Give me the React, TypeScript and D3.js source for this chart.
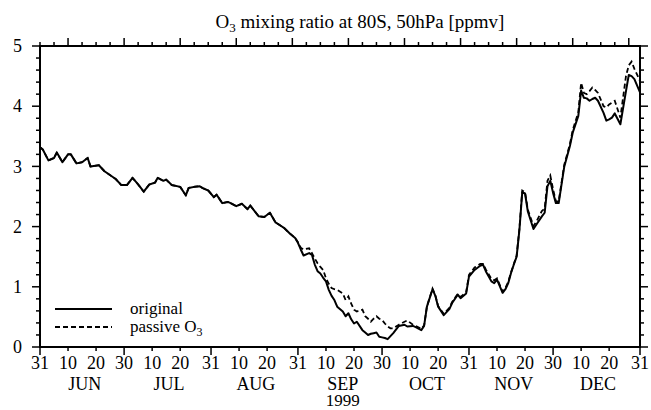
import React, { useEffect, useRef } from 'react';
import * as d3 from 'd3';

// days after 31 May 1999
const dayOffsets = [
  0, 1, 3, 5, 6, 8, 10, 11, 13, 15, 17, 18, 21, 23, 27, 29, 31, 33, 35, 37,
  39, 41, 42, 44, 45, 47, 50, 52, 53, 55, 57, 58, 60, 62, 63, 65, 67, 68, 70, 72,
  74, 75, 78, 80, 82, 84, 86, 87, 89, 91, 92, 93, 94, 96, 97, 98, 99, 100, 101, 102,
  103, 104, 105, 106, 108, 109, 110, 111, 112, 113, 115, 116, 117, 118, 119, 120, 121, 122, 123, 124,
  125, 126, 128, 130, 131, 133, 134, 136, 137, 138, 140, 141, 142, 144, 146, 147, 149, 150, 152, 153,
  155, 157, 158, 159, 161, 162, 163, 165, 166, 167, 168, 169, 170, 171, 172, 173, 174, 176, 177, 179,
  180, 181, 182, 183, 184, 185, 187, 188, 189, 190, 192, 193, 194, 195, 196, 197, 198, 199, 201, 202,
  203, 204, 205, 207, 209, 210, 211, 212, 214,
];

const originalO3 = [
  3.32, 3.28, 3.10, 3.14, 3.23, 3.07, 3.20, 3.20, 3.05, 3.07, 3.14, 3.00, 3.02, 2.92, 2.79, 2.69, 2.69, 2.81, 2.70, 2.58,
  2.70, 2.73, 2.81, 2.76, 2.78, 2.69, 2.66, 2.52, 2.64, 2.66, 2.67, 2.64, 2.60, 2.49, 2.53, 2.39, 2.41, 2.39, 2.34, 2.38,
  2.29, 2.35, 2.17, 2.16, 2.23, 2.07, 2.01, 1.98, 1.89, 1.81, 1.73, 1.62, 1.52, 1.56, 1.53, 1.37, 1.26, 1.22, 1.15, 1.09,
  0.95, 0.85, 0.78, 0.67, 0.59, 0.51, 0.56, 0.46, 0.39, 0.42, 0.28, 0.24, 0.20, 0.22, 0.23, 0.24, 0.17, 0.16, 0.15, 0.13,
  0.18, 0.23, 0.35, 0.37, 0.34, 0.35, 0.33, 0.28, 0.35, 0.67, 0.96, 0.85, 0.67, 0.53, 0.63, 0.73, 0.87, 0.81, 0.89, 1.17,
  1.28, 1.35, 1.37, 1.26, 1.09, 1.06, 1.12, 0.90, 0.96, 1.06, 1.23, 1.37, 1.50, 1.95, 2.57, 2.55, 2.25, 1.96, 2.03, 2.17,
  2.23, 2.67, 2.76, 2.56, 2.39, 2.39, 3.00, 3.17, 3.34, 3.56, 3.84, 4.26, 4.14, 4.13, 4.09, 4.12, 4.14, 4.09, 3.89, 3.76,
  3.78, 3.81, 3.88, 3.70, 4.25, 4.52, 4.50, 4.45, 4.23,
];

const passiveO3 = [
  3.32, 3.28, 3.10, 3.14, 3.23, 3.07, 3.20, 3.20, 3.05, 3.07, 3.14, 3.00, 3.02, 2.92, 2.79, 2.69, 2.69, 2.81, 2.70, 2.58,
  2.70, 2.73, 2.81, 2.76, 2.78, 2.69, 2.66, 2.52, 2.64, 2.66, 2.67, 2.64, 2.60, 2.49, 2.53, 2.39, 2.41, 2.39, 2.34, 2.38,
  2.29, 2.35, 2.17, 2.16, 2.23, 2.07, 2.01, 1.98, 1.89, 1.81, 1.74, 1.65, 1.62, 1.64, 1.56, 1.47, 1.39, 1.33, 1.28, 1.14,
  1.05, 0.98, 0.96, 0.95, 0.89, 0.78, 0.84, 0.72, 0.62, 0.59, 0.62, 0.51, 0.47, 0.42, 0.47, 0.51, 0.47, 0.45, 0.39, 0.34,
  0.31, 0.31, 0.37, 0.42, 0.44, 0.37, 0.35, 0.30, 0.36, 0.67, 0.97, 0.86, 0.68, 0.55, 0.65, 0.75, 0.88, 0.83, 0.91, 1.20,
  1.32, 1.38, 1.38, 1.29, 1.13, 1.11, 1.14, 0.92, 0.98, 1.08, 1.24, 1.38, 1.52, 1.97, 2.60, 2.57, 2.28, 2.01, 2.08, 2.26,
  2.30, 2.76, 2.85, 2.62, 2.42, 2.42, 3.03, 3.20, 3.37, 3.60, 3.90, 4.39, 4.22, 4.20, 4.25, 4.31, 4.27, 4.22, 4.00, 3.98,
  4.03, 4.06, 4.09, 3.81, 4.50, 4.68, 4.74, 4.62, 4.42,
];

const xTickDates = [
  '1999-05-31', '1999-06-10', '1999-06-20', '1999-06-30', '1999-07-10', '1999-07-20', '1999-07-31',
  '1999-08-10', '1999-08-20', '1999-08-31', '1999-09-10', '1999-09-20', '1999-09-30', '1999-10-10',
  '1999-10-20', '1999-10-31', '1999-11-10', '1999-11-20', '1999-11-30', '1999-12-10', '1999-12-20',
  '1999-12-31',
];
const monthLabels = ['JUN', 'JUL', 'AUG', 'SEP', 'OCT', 'NOV', 'DEC'];
const yearLabel = '1999';
const yTicks = [0, 1, 2, 3, 4, 5];
const legendLabels = ['original', 'passive O'];

const FONT = "'Liberation Serif', 'DejaVu Serif', serif";

export default function App() {
  const svgRef = useRef<SVGSVGElement>(null);

  useEffect(() => {
    if (!svgRef.current) return;
    const svg = d3.select(svgRef.current);
    svg.selectAll('*').remove();

    const W = 651;
    const H = 410;
    const margin = { top: 46, right: 11, bottom: 63, left: 40 };
    const start = new Date(Date.UTC(1999, 4, 31));
    const end = new Date(Date.UTC(1999, 11, 31));

    const x = d3.scaleUtc().domain([start, end]).range([margin.left, W - margin.right]);
    const y = d3.scaleLinear().domain([0, 5]).range([H - margin.bottom, margin.top]);
    const x0 = margin.left, x1 = W - margin.right, y0 = H - margin.bottom, y1 = margin.top;

    const g = svg.append('g').style('font-family', FONT).attr('fill', '#000');

    // Title
    const title = g.append('text')
      .attr('x', 360)
      .attr('y', 28)
      .attr('text-anchor', 'middle')
      .style('font-family', FONT)
      .attr('font-size', 19);
    title.append('tspan').text('O');
    title.append('tspan').attr('font-size', 13).attr('dy', 4).text('3');
    title.append('tspan').attr('dy', -4).text(' mixing ratio at 80S, 50hPa [ppmv]');

    // Curves
    const dates = dayOffsets.map(d => d3.utcDay.offset(start, d));
    const line = d3.line<number>()
      .x((_, i) => x(dates[i]))
      .y(v => y(v));

    g.append('path')
      .attr('d', line(passiveO3))
      .attr('fill', 'none')
      .attr('stroke', '#000')
      .attr('stroke-width', 1.8)
      .attr('stroke-dasharray', '5,3');

    g.append('path')
      .attr('d', line(originalO3))
      .attr('fill', 'none')
      .attr('stroke', '#000')
      .attr('stroke-width', 2)
      .attr('stroke-linejoin', 'round');

    // Frame
    g.append('rect')
      .attr('x', x0).attr('y', y1)
      .attr('width', x1 - x0).attr('height', y0 - y1)
      .attr('fill', 'none')
      .attr('stroke', '#000')
      .attr('stroke-width', 2);

    const major = 8, minor = 4;

    // Y ticks (left and right), minor every 0.2
    const yMinor = d3.range(0, 5.0001, 0.2);
    yMinor.forEach(v => {
      const isMajor = Math.abs(v - Math.round(v)) < 1e-6;
      const len = isMajor ? major : minor;
      g.append('line').attr('x1', x0).attr('x2', x0 - len).attr('y1', y(v)).attr('y2', y(v))
        .attr('stroke', '#000').attr('stroke-width', 1.5);
      g.append('line').attr('x1', x1).attr('x2', x1 + len).attr('y1', y(v)).attr('y2', y(v))
        .attr('stroke', '#000').attr('stroke-width', 1.5);
    });
    g.selectAll('.ylab')
      .data(yTicks)
      .enter()
      .append('text')
      .attr('x', 22)
      .attr('y', d => y(d))
      .attr('dy', '0.34em')
      .attr('text-anchor', 'end')
      .style('font-family', FONT)
      .attr('font-size', 18)
      .text(d => d);

    // Bottom ticks: 10th, 20th and month ends
    const tickDates = xTickDates.map(s => new Date(s + 'T00:00:00Z'));
    tickDates.forEach(d => {
      const isMajor = d3.utcDay.offset(d, 1).getUTCDate() === 1;
      g.append('line')
        .attr('x1', x(d)).attr('x2', x(d))
        .attr('y1', y0).attr('y2', y0 + (isMajor ? major : minor))
        .attr('stroke', '#000').attr('stroke-width', 1.5);
    });
    g.selectAll('.xlab')
      .data(tickDates)
      .enter()
      .append('text')
      .attr('x', d => x(d))
      .attr('y', 369)
      .attr('text-anchor', 'middle')
      .style('font-family', FONT)
      .attr('font-size', 18)
      .text(d => d3.utcFormat('%-d')(d));

    g.selectAll('.mlab')
      .data(monthLabels)
      .enter()
      .append('text')
      .attr('x', (_, i) => x(d3.utcDay.offset(d3.utcMonth.offset(new Date(Date.UTC(1999, 5, 1)), i), 15)))
      .attr('y', 390)
      .attr('text-anchor', 'middle')
      .style('font-family', FONT)
      .attr('font-size', 18)
      .text(d => d);

    g.append('text')
      .attr('x', x(new Date(Date.UTC(1999, 8, 16))))
      .attr('y', 406)
      .attr('text-anchor', 'middle')
      .style('font-family', FONT)
      .attr('font-size', 17)
      .text(yearLabel);

    // Top ticks: day of year, major every 20, minor every 5
    const jan1 = new Date(Date.UTC(1999, 0, 1));
    d3.range(150, 365, 5).forEach(doy => {
      const d = d3.utcDay.offset(jan1, doy);
      const len = doy % 20 === 0 ? major : minor;
      g.append('line')
        .attr('x1', x(d)).attr('x2', x(d))
        .attr('y1', y1).attr('y2', y1 - len)
        .attr('stroke', '#000').attr('stroke-width', 1.5);
    });

    // Legend
    const legend = g.append('g');
    legendLabels.forEach((label, i) => {
      const ly = 309 + i * 18;
      legend.append('line')
        .attr('x1', 55).attr('x2', 112)
        .attr('y1', ly).attr('y2', ly)
        .attr('stroke', '#000')
        .attr('stroke-width', i === 0 ? 2 : 1.8)
        .attr('stroke-dasharray', i === 0 ? null : '5,3');
      const t = legend.append('text')
        .attr('x', 130)
        .attr('y', ly + 5)
        .style('font-family', FONT)
        .attr('font-size', 17)
        .text(label);
      if (i === 1) {
        t.append('tspan').attr('font-size', 12).attr('dy', 4).text('3');
      }
    });
  }, []);

  return (
    <svg
      ref={svgRef}
      width={651}
      height={410}
      style={{ position: 'absolute', left: 0, top: 0, background: '#fff' }}
    />
  );
}
